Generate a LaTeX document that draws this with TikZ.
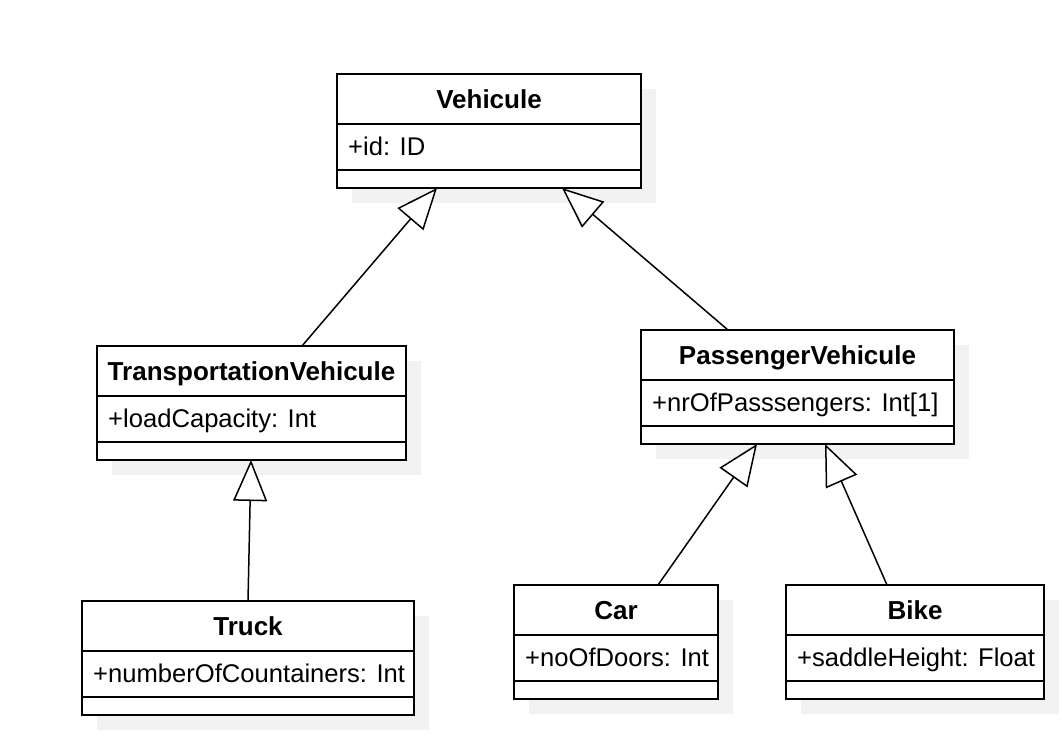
\documentclass[tikz,border=0pt]{standalone}
\usepackage{fontspec}
\setmainfont{Liberation Sans}
\usetikzlibrary{arrows.meta,positioning,calc,shadows}
\definecolor{shadowgray}{RGB}{242,242,242}
\tikzset{
  classbox/.style={draw,line width=2pt,fill=white,inner sep=0pt,outer sep=0pt,anchor=north west,minimum height=114pt,general shadow={shadow xshift=15pt,shadow yshift=-15pt,fill=shadowgray}},
  classname/.style={font=\fontsize{26}{31}\selectfont\bfseries,inner sep=0pt,anchor=base},
  attrib/.style={font=\fontsize{25.6}{31}\selectfont,inner sep=0pt,anchor=base west},
  divider/.style={line width=2pt},
  inherit/.style={line width=1.5pt,-{Triangle[length=41pt,width=34pt,fill=white]}}
}
\begin{document}
\begin{tikzpicture}[x=1pt,y=-1pt]
\fill[white] (0,0) rectangle (1062,742);
\useasboundingbox (0,0) rectangle (1062,742);
\foreach \nm/\px/\py/\w/\title/\attr in {veh/337/74/304/Vehicule/{+id: ID},tv/97/346/309/TransportationVehicule/{+loadCapacity: Int},pv/641/330/313/PassengerVehicule/{+nrOfPasssengers: Int[1]},truck/82/601/332/Truck/{+numberOfCountainers: Int},car/514/585/204/Car/{+noOfDoors: Int},bike/786/585/258/Bike/{+saddleHeight: Float}} {
  \node[classbox,minimum width=\w pt] (\nm) at (\px,\py) {};
  \draw[divider] ([yshift=-50pt]\nm.north west) -- ([yshift=-50pt]\nm.north east);
  \draw[divider] ([yshift=-96pt]\nm.north west) -- ([yshift=-96pt]\nm.north east);
  \node[classname] (\nm-name) at ([yshift=-34.5pt]\nm.north) {\title};
  \node[attrib] (\nm-attr) at ([xshift=11pt,yshift=-81.5pt]\nm.north west) {\attr};
}
\draw[inherit] ([xshift=205pt]tv.north west) -- ([xshift=100pt]veh.south west);
\draw[inherit] ([xshift=87pt]pv.north west) -- ([xshift=225pt]veh.south west);
\draw[inherit] ([xshift=166pt]truck.north west) -- ([xshift=154pt]tv.south west);
\draw[inherit] ([xshift=144pt]car.north west) -- ([xshift=116pt]pv.south west);
\draw[inherit] ([xshift=101pt]bike.north west) -- ([xshift=184pt]pv.south west);
\end{tikzpicture}
\end{document}
